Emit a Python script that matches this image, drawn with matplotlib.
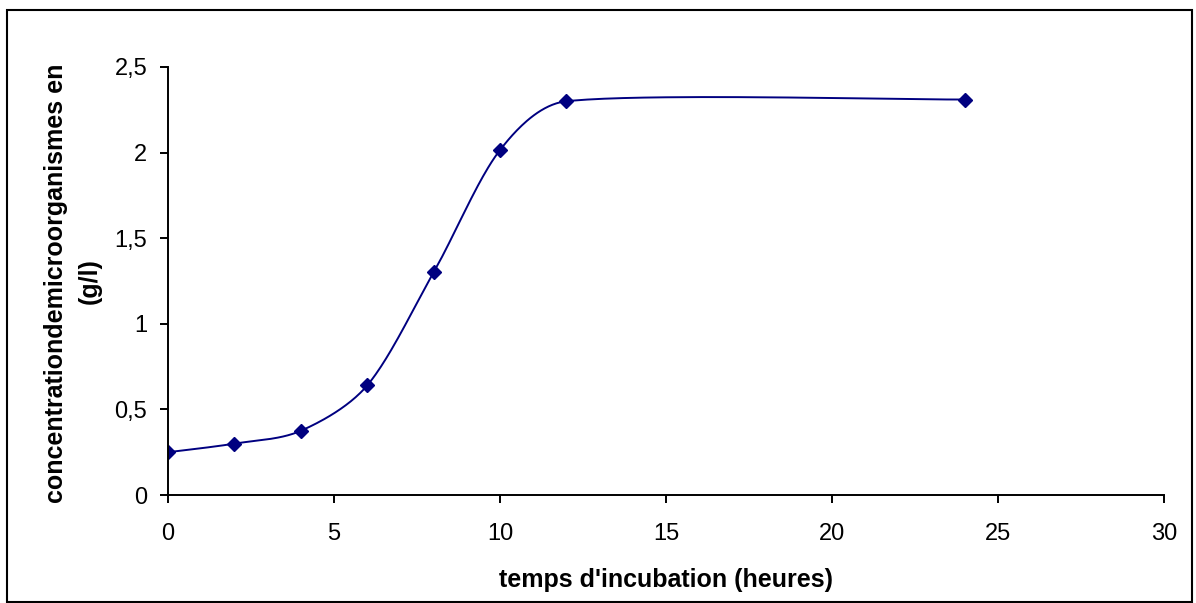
import matplotlib.pyplot as plt
import numpy as np

# --- Data ---
heures = [0, 2, 4, 6, 8, 10, 12, 24]
concentration = [0.25, 0.30, 0.375, 0.64, 1.30, 2.015, 2.30, 2.31]

x_ticks = [0, 5, 10, 15, 20, 25, 30]
y_ticks = [0, 0.5, 1, 1.5, 2, 2.5]
y_labels = ['0', '0,5', '1', '1,5', '2', '2,5']

plt.rcParams['font.family'] = ['Liberation Sans', 'DejaVu Sans']

W, H = 1196, 603
fig = plt.figure(figsize=(W / 100, H / 100), dpi=100)
ax = fig.add_axes([168 / W, (H - 495) / H, (1164 - 168) / W, (495 - 67) / H])
ax.set_xlim(0, 30)
ax.set_ylim(0, 2.5)


def smooth_curve(ax, xs, ys, n=40):
    # Excel-style smoothed line: Bezier segments whose control points are
    # scaled by neighbouring segment lengths (in display space)
    pts = ax.transData.transform(np.column_stack([xs, ys]))
    f = 1 / 6
    out = []
    for i in range(len(pts) - 1):
        p0 = pts[max(i - 1, 0)]
        p1 = pts[i]
        p2 = pts[i + 1]
        p3 = pts[min(i + 2, len(pts) - 1)]
        d01 = np.hypot(*(p1 - p0))
        d12 = np.hypot(*(p2 - p1))
        d23 = np.hypot(*(p3 - p2))
        s1 = min(1, 2 * d12 / (d01 + d12)) if d01 > 0 else 1
        s2 = min(1, 2 * d12 / (d12 + d23)) if d23 > 0 else 1
        c1 = p1 + (p2 - p0) * f * s1
        c2 = p2 - (p3 - p1) * f * s2
        t = np.linspace(0, 1, n)[:, None]
        seg = ((1 - t) ** 3 * p1 + 3 * (1 - t) ** 2 * t * c1
               + 3 * (1 - t) * t ** 2 * c2 + t ** 3 * p2)
        out.append(seg)
    curve = ax.transData.inverted().transform(np.vstack(out))
    return curve[:, 0], curve[:, 1]


sx, sy = smooth_curve(ax, heures, concentration)
ax.plot(sx, sy, color='#000080', lw=1.4)
ax.plot(heures, concentration, ls='none', marker='D', ms=7.5, color='#000080')

ax.set_xticks(x_ticks)
ax.set_yticks(y_ticks)
ax.set_yticklabels(y_labels)
ax.tick_params(direction='out', length=6, width=1.4, labelsize=17, color='black')
ax.tick_params(axis='x', pad=14)
ax.tick_params(axis='y', pad=9)

for side in ['top', 'right']:
    ax.spines[side].set_visible(False)
for side in ['left', 'bottom']:
    ax.spines[side].set_linewidth(1.4)

ax.set_xlabel("temps d'incubation (heures)", fontsize=18, fontweight='bold', labelpad=17)
fig.text(56 / W, 1 - 283 / H, "concentrationdemicroorganismes en", rotation=90,
         fontsize=18, fontweight='bold', ha='center', va='center')
fig.text(90 / W, 1 - 281 / H, "(g/l)", rotation=90,
         fontsize=18, fontweight='bold', ha='center', va='center')

# outer frame around the whole chart
fig.patches.append(plt.Rectangle((7 / W, 1 / H), (1192 - 7) / W, (H - 11) / H,
                                 transform=fig.transFigure, fill=False,
                                 edgecolor='black', lw=1.5))

fig.savefig('out.png', dpi=100)
